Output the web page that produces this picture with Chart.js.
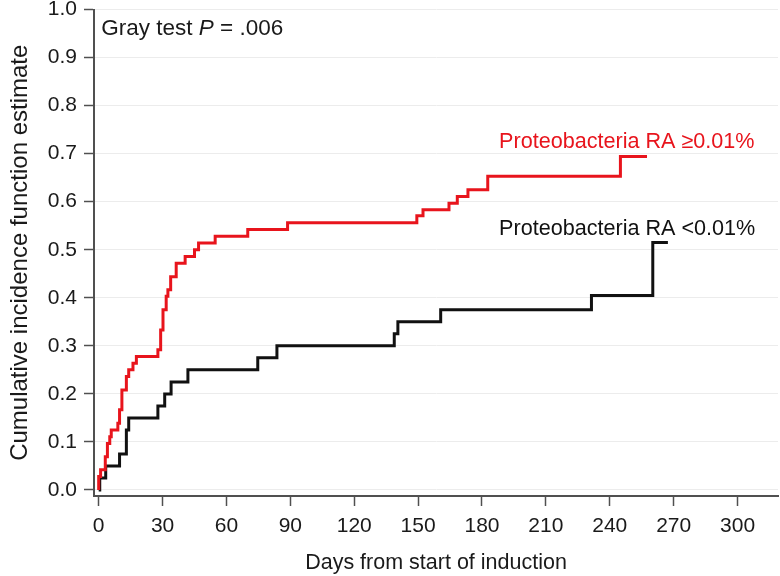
<!DOCTYPE html>
<html>
<head>
<meta charset="utf-8">
<script src="https://cdn.jsdelivr.net/npm/chart.js@4.4.1/dist/chart.umd.min.js"></script>
<style>
html,body{margin:0;padding:0;background:#fff;}
canvas{display:block;}
</style>
</head>
<body>
<canvas id="c" width="780" height="576"></canvas>
<script>
// ---- Data ----
const highDays   = [0, 0, 0.9, 3.1, 4.1, 5.2, 5.9, 9.0, 9.8, 10.9, 13.0, 14.1, 16.1, 17.7, 27.8, 29.1, 30.2, 31.7, 32.5, 33.8, 36.4, 40.6, 45.0, 46.9, 54.7, 70.0, 88.7, 149.4, 152.3, 164.5, 168.4, 173.4, 182.7, 245.0, 257.5];
const highCIF    = [0, 0.028, 0.042, 0.069, 0.097, 0.111, 0.125, 0.139, 0.167, 0.208, 0.236, 0.250, 0.264, 0.278, 0.292, 0.333, 0.375, 0.403, 0.417, 0.444, 0.472, 0.486, 0.500, 0.514, 0.528, 0.542, 0.556, 0.571, 0.583, 0.597, 0.611, 0.625, 0.653, 0.694, 0.694];
const lowDays    = [0, 0.5, 3.3, 9.8, 13.0, 14.1, 27.8, 31.0, 34.0, 41.9, 74.7, 83.7, 138.8, 140.5, 160.6, 231.4, 260.2, 267.3];
const lowCIF     = [0, 0.025, 0.050, 0.075, 0.125, 0.150, 0.175, 0.200, 0.225, 0.250, 0.275, 0.300, 0.325, 0.350, 0.375, 0.405, 0.515, 0.515];
const seriesNames = ['Proteobacteria RA \u22650.01%', 'Proteobacteria RA <0.01%'];
const xTickValues = [0, 30, 60, 90, 120, 150, 180, 210, 240, 270, 300];
const yTickValues = [0, 0.1, 0.2, 0.3, 0.4, 0.5, 0.6, 0.7, 0.8, 0.9, 1.0];
const xTitle = 'Days from start of induction';
const yTitle = 'Cumulative incidence function estimate';
// annotation anchors (text baseline start) in data units: [day, value]
const labelAnchors = [[188, 0.712], [188, 0.530]];
const testAnchor = [1.2, 0.946];
const testParts = ['Gray test ', 'P', ' = .006'];

const RED = '#e8141c';
const BLACK = '#111111';
const AXIS = '#505050';
const TEXT = '#1a1a1a';
const FONT = '"Liberation Sans", Arial, sans-serif';

const toPts = (xs, ys) => xs.map((x, i) => ({x: x, y: ys[i]}));

const annotate = {
  id: 'annotate',
  afterDatasetsDraw(chart) {
    const ctx = chart.ctx, xs = chart.scales.x, ys = chart.scales.y;
    ctx.save();
    ctx.textBaseline = 'alphabetic';
    ctx.textAlign = 'left';
    ctx.font = '21.6px ' + FONT;
    const cols = [RED, BLACK];
    labelAnchors.forEach((a, i) => {
      ctx.fillStyle = cols[i];
      ctx.fillText(seriesNames[i], xs.getPixelForValue(a[0]), ys.getPixelForValue(a[1]));
    });
    let px = xs.getPixelForValue(testAnchor[0]);
    const py = ys.getPixelForValue(testAnchor[1]);
    ctx.fillStyle = TEXT;
    testParts.forEach((t, i) => {
      ctx.font = (i === 1 ? 'italic ' : '') + '22.5px ' + FONT;
      ctx.fillText(t, px, py);
      px += ctx.measureText(t).width;
    });
    ctx.restore();
  }
};

new Chart(document.getElementById('c'), {
  type: 'line',
  data: {
    datasets: [
      {label: seriesNames[0], data: toPts(highDays, highCIF), borderColor: RED, borderWidth: 3, stepped: true, pointRadius: 0, fill: false},
      {label: seriesNames[1], data: toPts(lowDays, lowCIF), borderColor: BLACK, borderWidth: 3, stepped: true, pointRadius: 0, fill: false}
    ]
  },
  options: {
    responsive: false,
    devicePixelRatio: 1,
    animation: false,
    layout: {padding: {top: 9.5, right: 2, left: 0, bottom: 0}},
    plugins: {legend: {display: false}, tooltip: {enabled: false}},
    scales: {
      x: {
        type: 'linear',
        min: -2.2,
        max: 319,
        afterBuildTicks: s => { s.ticks = xTickValues.map(v => ({value: v})); },
        afterFit: s => { s.height = 80; s.paddingLeft = 0; s.paddingRight = 0; },
        ticks: {color: TEXT, font: {family: FONT, size: 21}, padding: 8, maxRotation: 0, autoSkip: false},
        grid: {drawOnChartArea: false, tickLength: 10, tickColor: AXIS, tickWidth: 1.5},
        border: {color: AXIS, width: 2},
        title: {display: true, text: xTitle, color: TEXT, font: {family: FONT, size: 21.5}, padding: {top: 0, bottom: 0}}
      },
      y: {
        type: 'linear',
        min: -0.0125,
        max: 1.0,
        afterBuildTicks: s => { s.ticks = yTickValues.map(v => ({value: v})); },
        afterFit: s => { s.width = 94; s.paddingTop = 0; s.paddingBottom = 0; },
        ticks: {color: TEXT, font: {family: FONT, size: 21}, padding: 7, callback: v => v.toFixed(1), autoSkip: false},
        grid: {color: '#ececec', lineWidth: 1, tickLength: 10, tickColor: AXIS, tickWidth: 1.5},
        border: {color: AXIS, width: 2},
        title: {display: true, text: yTitle, color: TEXT, font: {family: FONT, size: 24}, padding: {top: 5.5, bottom: 0}}
      }
    }
  },
  plugins: [annotate]
});
</script>
</body>
</html>
